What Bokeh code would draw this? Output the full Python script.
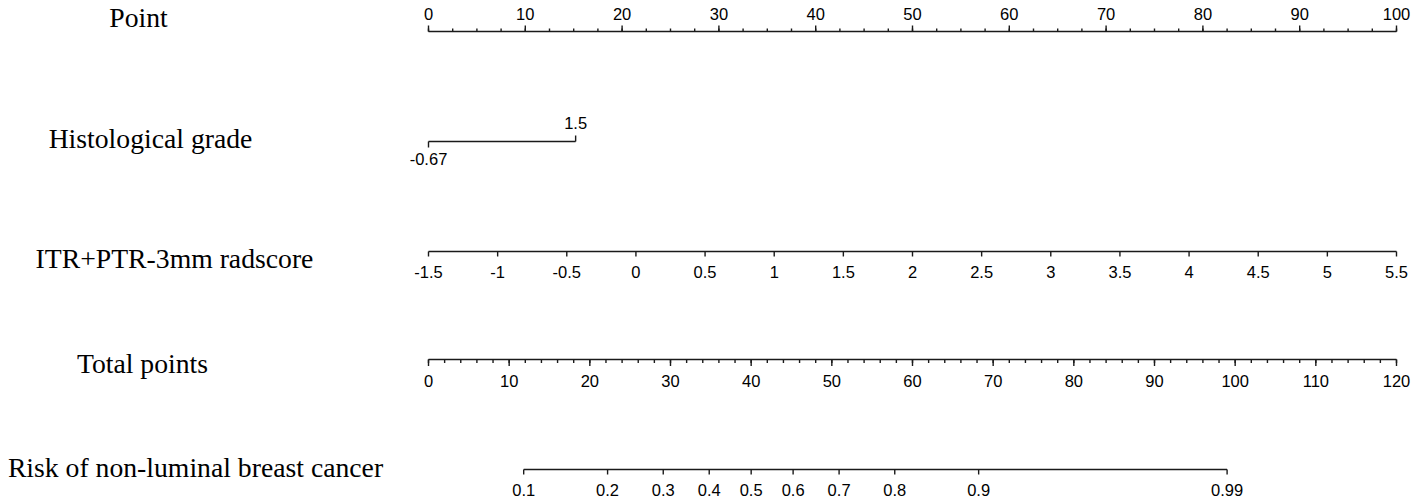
from bokeh.plotting import figure
from bokeh.models import Range1d
from bokeh.core.properties import value
from bokeh.embed import file_html
from bokeh.resources import INLINE

# ---------------- data ----------------
row_titles = ["Point", "Histological grade", "ITR+PTR-3mm radscore",
              "Total points", "Risk of non-luminal breast cancer"]

point_ticks = [0, 10, 20, 30, 40, 50, 60, 70, 80, 90, 100]
point_minor = [2.5 * i for i in range(41)]

hist_labels = ["-0.67", "1.5"]
hist_points = [0, 15.2]

rad_ticks = [-1.5, -1, -0.5, 0, 0.5, 1, 1.5, 2, 2.5, 3, 3.5, 4, 4.5, 5, 5.5]
rad_labels = ["-1.5", "-1", "-0.5", "0", "0.5", "1", "1.5", "2", "2.5",
              "3", "3.5", "4", "4.5", "5", "5.5"]

total_ticks = [0, 10, 20, 30, 40, 50, 60, 70, 80, 90, 100, 110, 120]
total_minor = [2 * i for i in range(61)]

risk_labels = ["0.1", "0.2", "0.3", "0.4", "0.5", "0.6", "0.7", "0.8", "0.9", "0.99"]
risk_total_points = [11.8, 22.2, 29.1, 34.8, 40.0, 45.2, 50.9, 57.8, 68.2, 99.0]

# ---------------- layout ----------------
W, H = 1417, 502
OX, OY = 0, 0                       # page position of the canvas
PX0, PX100 = 428.0, 1396.0          # page px of 0 and 100 points


def px2pts(x):
    return (x - PX0) * 100.0 / (PX100 - PX0)


x_start, x_end = px2pts(OX), px2pts(OX + W)

p = figure(width=W, height=H, output_backend="svg", toolbar_location=None,
           x_range=Range1d(x_start, x_end), y_range=Range1d(OY + H, OY),
           min_border=0, outline_line_color=None)
p.axis.visible = False
p.grid.visible = False

# radscore: -1.5 -> 0 pts, 5.5 -> 100 pts
rad_per_pt = (rad_ticks[-1] - rad_ticks[0]) / 100.0
p.extra_x_ranges = {
    "rad": Range1d(rad_ticks[0] + x_start * rad_per_pt, rad_ticks[0] + x_end * rad_per_pt),
    "tot": Range1d(x_start * total_ticks[-1] / 100.0, x_end * total_ticks[-1] / 100.0),
}

LC = "#1a1a1a"
LW = 1.4
sans = value("Liberation Sans")
serif = value("Liberation Serif")
FS = "16.5px"

# titles
title_x_px = [138, 150, 174, 142, 195]
title_y = [17, 138, 258, 363, 467]
p.text(x=[px2pts(v) for v in title_x_px], y=title_y, text=row_titles,
       text_font=serif, text_font_size="27.7px", text_align="center",
       text_baseline="alphabetic", text_color="black")

# Point row
yP = 31
p.segment(x0=[point_ticks[0]], y0=[yP], x1=[point_ticks[-1]], y1=[yP], line_color=LC, line_width=LW)
p.segment(x0=point_minor, y0=[yP] * len(point_minor), x1=point_minor,
          y1=[yP - 3] * len(point_minor), line_color=LC, line_width=LW)
p.segment(x0=point_ticks, y0=[yP] * len(point_ticks), x1=point_ticks,
          y1=[yP - 6] * len(point_ticks), line_color=LC, line_width=LW)
p.text(x=point_ticks, y=[13] * len(point_ticks), text=[str(t) for t in point_ticks],
       text_font=sans, text_font_size=FS, text_align="center", text_baseline="middle",
       text_color="black")

# Histological grade
yH = 141
p.segment(x0=[hist_points[0]], y0=[yH], x1=[hist_points[1]], y1=[yH], line_color=LC, line_width=LW)
p.segment(x0=hist_points, y0=[yH, yH], x1=hist_points, y1=[yH + 6, yH - 6],
          line_color=LC, line_width=LW)
p.text(x=hist_points, y=[158, 122], text=hist_labels, text_font=sans, text_font_size=FS,
       text_align="center", text_baseline="middle", text_color="black")

# Radscore
yR = 251
p.segment(x0=[rad_ticks[0]], y0=[yR], x1=[rad_ticks[-1]], y1=[yR], line_color=LC,
          line_width=LW, x_range_name="rad")
p.segment(x0=rad_ticks, y0=[yR] * len(rad_ticks), x1=rad_ticks, y1=[yR + 5] * len(rad_ticks),
          line_color=LC, line_width=LW, x_range_name="rad")
p.text(x=rad_ticks, y=[271] * len(rad_ticks), text=rad_labels, text_font=sans,
       text_font_size=FS, text_align="center", text_baseline="middle", text_color="black",
       x_range_name="rad")

# Total points
yT = 359
p.segment(x0=[total_ticks[0]], y0=[yT], x1=[total_ticks[-1]], y1=[yT], line_color=LC,
          line_width=LW, x_range_name="tot")
p.segment(x0=total_minor, y0=[yT] * len(total_minor), x1=total_minor,
          y1=[yT + 3.5] * len(total_minor), line_color=LC, line_width=LW, x_range_name="tot")
p.segment(x0=total_ticks, y0=[yT] * len(total_ticks), x1=total_ticks,
          y1=[yT + 6.5] * len(total_ticks), line_color=LC, line_width=LW, x_range_name="tot")
p.text(x=total_ticks, y=[380] * len(total_ticks), text=[str(t) for t in total_ticks],
       text_font=sans, text_font_size=FS, text_align="center", text_baseline="middle",
       text_color="black", x_range_name="tot")

# Risk
yK = 469
p.segment(x0=[risk_total_points[0]], y0=[yK], x1=[risk_total_points[-1]], y1=[yK],
          line_color=LC, line_width=LW, x_range_name="tot")
p.segment(x0=risk_total_points, y0=[yK] * len(risk_total_points), x1=risk_total_points,
          y1=[yK + 5] * len(risk_total_points), line_color=LC, line_width=LW,
          x_range_name="tot")
p.text(x=risk_total_points, y=[489] * len(risk_total_points), text=risk_labels,
       text_font=sans, text_font_size=FS, text_align="center", text_baseline="middle",
       text_color="black", x_range_name="tot")

open("out.html", "w").write(file_html(p, INLINE))
